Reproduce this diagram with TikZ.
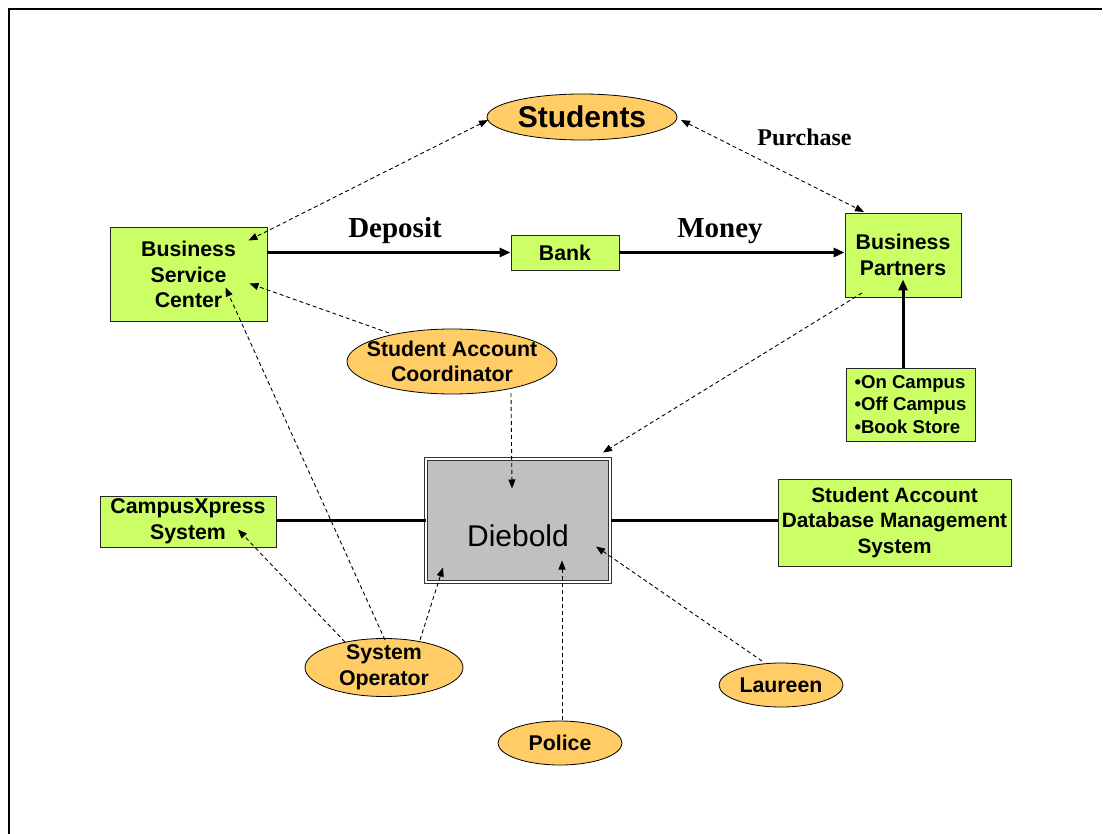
\documentclass[tikz,border=0pt]{standalone}
\usepackage{fontspec}
\setmainfont{Liberation Sans}
\newfontfamily\timesf{Liberation Serif}
\usetikzlibrary{shapes.geometric,arrows.meta,calc}
\definecolor{limeg}{HTML}{CCFF66}
\definecolor{orng}{HTML}{FFCC66}
\definecolor{diegray}{HTML}{C0C0C0}
\begin{document}
\begin{tikzpicture}[x=1pt,y=-1pt,
  greenbox/.style={draw=black!85, line width=0.8pt, fill=limeg, align=center,
    inner sep=0pt, font=\bfseries\fontsize{21.3}{25.5}\selectfont},
  orangeell/.style={ellipse, draw=black, line width=0.8pt, fill=orng, align=center,
    inner xsep=-20pt, inner ysep=-10pt, font=\bfseries\fontsize{21.3}{25.5}\selectfont},
  dasharrow/.style={line width=0.9pt, dash pattern=on 4pt off 3pt,
    -{Triangle[length=9pt,width=7pt]}},
  dasharrows/.style={dasharrow, {Triangle[length=9pt,width=7pt]}-{Triangle[length=9pt,width=7pt]}},
  solidarrow/.style={line width=3pt, -{Triangle[length=11pt,width=9pt]}},
  solidline/.style={line width=3pt},
  flowlabel/.style={anchor=base, inner sep=0pt, font=\timesf\bfseries\fontsize{29}{34}\selectfont}
]
\useasboundingbox (0,0) rectangle (1103,834);
\draw[line width=2.5pt] (9,834) -- (9,9) -- (1102,9);

% nodes
\node[orangeell, minimum width=190, minimum height=46, font=\bfseries\fontsize{30}{34}\selectfont] (students) at (582,117) {Students};
\node[greenbox, minimum width=157, minimum height=94] (bsc) at (188.5,274.5) {Business\\Service\\Center};
\node[greenbox, minimum width=108, minimum height=35] (bank) at (565,252.5) {Bank};
\node[greenbox, minimum width=116, minimum height=84] (bp) at (903,255) {Business\\Partners};
\node[greenbox, minimum width=129, minimum height=73, align=left,
  font=\bfseries\fontsize{18.6}{22.5}\selectfont] (bullets) at (910.5,404.5) {•On Campus\\•Off Campus\\•Book Store};
\node[orangeell, minimum width=210, minimum height=65] (sac) at (452,361.5) {Student Account\\Coordinator};
\node[draw=black!80, line width=1pt, double=white, double distance=2pt, fill=diegray,
  minimum width=184, minimum height=123, inner sep=0pt,
  font=\fontsize{30}{34}\selectfont] (diebold) at (518,520.5) {\raisebox{-26pt}[0pt][0pt]{Diebold}};
\node[greenbox, minimum width=176, minimum height=51] (cx) at (188,521.5) {CampusXpress\\System};
\node[greenbox, minimum width=233, minimum height=87, font=\bfseries\fontsize{20.8}{25.5}\selectfont] (sadms) at (894.5,522.5) {Student Account\\Database Management\\System};
\node[orangeell, minimum width=158, minimum height=58] (sysop) at (384,667.5) {System\\Operator};
\node[orangeell, minimum width=124, minimum height=44] (laureen) at (781,685) {Laureen};
\node[orangeell, minimum width=124, minimum height=44] (police) at (560,743) {Police};

% labels
\node[flowlabel] (deplabel) at (395,238) {Deposit};
\node[flowlabel] (monlabel) at (720,238) {Money};
\node[flowlabel, font=\timesf\bfseries\fontsize{24}{28}\selectfont] (purlabel) at (804.5,146) {Purchase};

% solid connectors
\draw[solidarrow] (bsc.east |- bank.west) -- (bank.west);
\draw[solidarrow] (bank.east) -- (bp.west |- bank.east);
\draw[solidarrow] (bullets.north -| bp.south) -- ($(bp.south)+(0,-18)$);
\draw[solidline] (diebold.west) -- (cx.east |- diebold.west);
\draw[solidline] (diebold.east) -- (sadms.west |- diebold.east);

% dashed connectors
\draw[dasharrows] ($(students.center)+(-94,3)$) -- ($(bsc.center)+(60,-34)$);
\draw[dasharrows] ($(students.center)+(99,3)$) -- ($(bp.center)+(-39,-43)$);
\draw[dasharrow] ($(sac.center)+(-63,-28.5)$) -- ($(bsc.center)+(61,9)$);
\draw[dasharrow] ($(sac.center)+(59,31.5)$) -- ($(diebold.center)+(-6,-32)$);
\draw[dasharrow] ($(bp.center)+(-41,38)$) -- ($(diebold.center)+(85,-68)$);
\draw[dasharrow] ($(sysop.center)+(-39,-25.5)$) -- ($(cx.center)+(50,8)$);
\draw[dasharrow] ($(sysop.center)+(1,-27.5)$) -- ($(bsc.center)+(37,13)$);
\draw[dasharrow] ($(sysop.center)+(36,-27.5)$) -- ($(diebold.center)+(-75,47)$);
\draw[dasharrow] ($(police.center)+(2,-23)$) -- ($(diebold.center)+(44,40)$);
\draw[dasharrow] ($(laureen.center)+(-19,-24)$) -- ($(diebold.center)+(78,26)$);
\end{tikzpicture}
\end{document}
